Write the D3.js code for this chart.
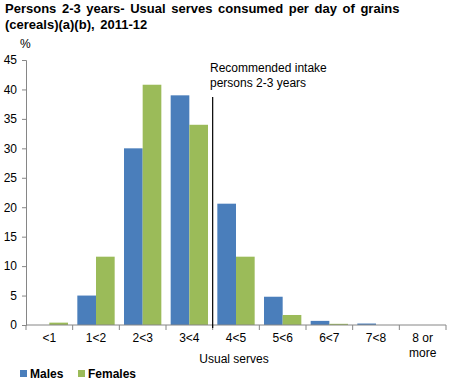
<!DOCTYPE html>
<html>
<head>
<meta charset="utf-8">
<script src="https://cdn.jsdelivr.net/npm/d3@7"></script>
<style>
  body { margin: 0; background: #fff; }
  svg { font-family: "Liberation Sans", Arial, sans-serif; }
</style>
</head>
<body>
<div id="chart"></div>
<script>
// data
var categories = ['<1', '1<2', '2<3', '3<4', '4<5', '5<6', '6<7', '7<8', '8 or more']
var males = [0, 5.0, 30.0, 39.0, 20.6, 4.8, 0.7, 0.25, 0]
var females = [0.4, 11.6, 40.8, 34.0, 11.6, 1.7, 0.2, 0, 0]
var yTicks = [0, 5, 10, 15, 20, 25, 30, 35, 40, 45]
var seriesNames = ['Males', 'Females']
var colors = ['#4A7EBB', '#9BBB59']

var width = 450, height = 386
var margin = {top: 60, right: 4, bottom: 61, left: 26}

var svg = d3.select('#chart').append('svg').attr('width', width).attr('height', height)

var x = d3.scaleBand().domain(categories).range([margin.left, width - margin.right]).paddingInner(0).paddingOuter(0)
var x1 = d3.scaleBand().domain(seriesNames).range([0, x.bandwidth()]).paddingOuter(0.25).paddingInner(0)
var y = d3.scaleLinear().domain([0, 45]).range([height - margin.bottom, margin.top])

// title
var title = svg.append('text').attr('x', 5).attr('y', 13).style('font-weight', 'bold').style('font-size', '13px')
  .style('word-spacing', '2px').attr('fill', '#000')
title.append('tspan').attr('x', 5).text('Persons 2-3 years- Usual serves consumed per day of grains')
title.append('tspan').attr('x', 5).attr('dy', 15.5).text('(cereals)(a)(b), 2011-12')

svg.append('text').attr('x', 20).attr('y', 48).style('font-size', '12px').text('%')

// bars
var data = categories.map(function(c, i) { return {cat: c, values: [males[i], females[i]]} })
var groups = svg.selectAll('g.grp').data(data).enter().append('g').attr('class', 'grp')
  .attr('transform', function(d) { return 'translate(' + x(d.cat) + ',0)' })
groups.selectAll('rect').data(function(d) { return d.values.map(function(v, j) { return {name: seriesNames[j], v: v, j: j} }) })
  .enter().append('rect')
  .attr('x', function(d) { return x1(d.name) })
  .attr('width', x1.bandwidth())
  .attr('y', function(d) { return y(d.v) })
  .attr('height', function(d) { return y(0) - y(d.v) })
  .attr('fill', function(d) { return colors[d.j] })

// y axis
var yAxis = d3.axisLeft(y).tickValues(yTicks).tickSize(4).tickPadding(5)
var gy = svg.append('g').attr('transform', 'translate(' + margin.left + ',0)').call(yAxis)
gy.select('.domain').attr('stroke', '#868686')
gy.selectAll('.tick line').attr('stroke', '#868686')
gy.selectAll('.tick text').style('font-size', '12px').attr('fill', '#000').attr('font-family', null)

// x axis with ticks between categories
var gx = svg.append('g').attr('transform', 'translate(0,' + y(0) + ')')
gx.append('line').attr('x1', margin.left).attr('x2', width - margin.right).attr('stroke', '#868686')
var bounds = categories.map(function(c) { return x(c) }).concat([x.range()[1]])
gx.selectAll('line.tk').data(bounds).enter().append('line').attr('class', 'tk')
  .attr('x1', function(d) { return d }).attr('x2', function(d) { return d })
  .attr('y1', 0).attr('y2', 5).attr('stroke', '#868686')
gx.selectAll('text.lbl').data(categories).enter().append('text').attr('class', 'lbl')
  .attr('text-anchor', 'middle').style('font-size', '12px')
  .each(function(d) {
    var t = d3.select(this)
    var cx = x(d) + x.bandwidth() / 2
    var parts = d === '8 or more' ? ['8 or', 'more'] : [d]
    parts.forEach(function(p, k) {
      t.append('tspan').attr('x', cx).attr('y', 17 + k * 14.5).text(p)
    })
  })

svg.append('text').attr('x', 234).attr('y', 363)
  .attr('text-anchor', 'middle').style('font-size', '12px').text('Usual serves')

// recommended intake line
var lineX = x('4<5')
svg.append('line').attr('x1', lineX).attr('x2', lineX).attr('y1', 97).attr('y2', y(0) + 3)
  .attr('stroke', '#000').attr('stroke-width', 1.2)
var rec = svg.append('text').style('font-size', '12px').attr('y', 72)
rec.append('tspan').attr('x', 210).text('Recommended intake')
rec.append('tspan').attr('x', 210).attr('dy', 15).text('persons 2-3 years')

// legend
var legendX = [20, 78]
var legend = svg.selectAll('g.legend').data(seriesNames).enter().append('g').attr('class', 'legend')
  .attr('transform', function(d, i) { return 'translate(' + legendX[i] + ',370)' })
legend.append('rect').attr('width', 7).attr('height', 7).attr('fill', function(d, i) { return colors[i] })
legend.append('text').attr('x', 10).attr('y', 7.5).style('font-size', '12px').style('font-weight', 'bold').text(function(d) { return d })
</script>
</body>
</html>
